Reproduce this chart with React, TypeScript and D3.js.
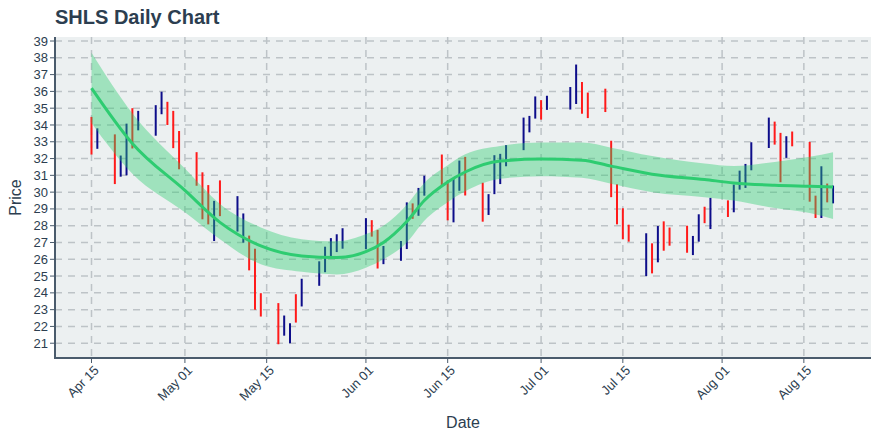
import * as d3 from "d3"

const title = "SHLS Daily Chart"

// trading days, high/low of each bar, and whether the day closed up (u) or down (d)
const dates = [
  "2021-04-15", "2021-04-16", "2021-04-19", "2021-04-20", "2021-04-21", "2021-04-22", "2021-04-23",
  "2021-04-26", "2021-04-27", "2021-04-28", "2021-04-29", "2021-04-30",
  "2021-05-03", "2021-05-04", "2021-05-05", "2021-05-06", "2021-05-07",
  "2021-05-10", "2021-05-11", "2021-05-12", "2021-05-13", "2021-05-14",
  "2021-05-17", "2021-05-18", "2021-05-19", "2021-05-20", "2021-05-21",
  "2021-05-24", "2021-05-25", "2021-05-26", "2021-05-27", "2021-05-28",
  "2021-06-01", "2021-06-02", "2021-06-03", "2021-06-04",
  "2021-06-07", "2021-06-08", "2021-06-09", "2021-06-10", "2021-06-11",
  "2021-06-14", "2021-06-15", "2021-06-16", "2021-06-17", "2021-06-18",
  "2021-06-21", "2021-06-22", "2021-06-23", "2021-06-24", "2021-06-25",
  "2021-06-28", "2021-06-29", "2021-06-30", "2021-07-01", "2021-07-02",
  "2021-07-06", "2021-07-07", "2021-07-08", "2021-07-09",
  "2021-07-12", "2021-07-13", "2021-07-14", "2021-07-15", "2021-07-16",
  "2021-07-19", "2021-07-20", "2021-07-21", "2021-07-22", "2021-07-23",
  "2021-07-26", "2021-07-27", "2021-07-28", "2021-07-29", "2021-07-30",
  "2021-08-02", "2021-08-03", "2021-08-04", "2021-08-05", "2021-08-06",
  "2021-08-09", "2021-08-10", "2021-08-11", "2021-08-12", "2021-08-13",
  "2021-08-16", "2021-08-17", "2021-08-18", "2021-08-19", "2021-08-20",
]

const highs = [
  34.48, 33.8, 33.44, 32.18, 34.08, 35.0, 34.84,
  35.18, 35.98, 35.38, 34.84, 33.64,
  32.38, 31.18, 30.42, 29.48, 30.7,
  29.76, 28.73, 27.41, 26.63, 23.98,
  23.39, 22.65, 22.19, 23.92, 24.84,
  25.88, 26.75, 27.26, 27.49, 27.85,
  28.45, 28.33, 27.75, 26.79,
  27.09, 29.39, 29.33, 30.25, 30.98,
  32.24, 30.7, 30.82, 31.88, 32.1,
  30.56, 29.88, 32.2, 32.28, 32.8,
  34.44, 34.54, 35.7, 35.48, 35.74,
  36.26, 37.6, 36.56, 35.93,
  36.16, 33.06, 30.47, 29.04, 28.06,
  27.55, 26.95, 27.98, 28.26, 27.89,
  28.0, 27.39, 28.68, 29.13, 29.66,
  29.51, 30.45, 31.28, 31.68, 32.97,
  34.44, 34.2, 33.53, 33.33, 33.61,
  32.99, 29.79, 31.54, 30.51, 30.39,
]

const lows = [
  32.24, 32.58, 30.48, 30.92, 31.0, 32.6, 33.68,
  33.36, 34.64, 34.0, 32.62, 31.36,
  30.38, 28.38, 28.08, 27.09, 28.57,
  27.65, 26.99, 25.34, 23.0, 22.59,
  20.94, 21.45, 21.0, 22.23, 23.19,
  24.42, 25.23, 26.12, 26.43, 26.63,
  26.61, 27.35, 25.45, 25.71,
  25.91, 26.61, 28.41, 28.59, 29.79,
  30.33, 28.32, 28.2, 30.08, 29.8,
  28.24, 28.64, 29.88, 30.48, 31.54,
  32.5, 33.56, 34.38, 34.32, 34.9,
  34.92, 35.25, 34.67, 34.41,
  34.77, 29.7, 28.08, 27.19, 27.05,
  25.0, 25.16, 25.82, 26.51, 26.81,
  26.39, 26.25, 27.05, 28.15, 27.8,
  28.52, 28.8, 30.15, 30.25, 31.3,
  32.63, 32.83, 30.59, 32.04, 32.73,
  29.43, 28.46, 28.46, 29.39, 29.33,
]

const moves = [
  "d", "u", "d", "u", "u", "d", "u",
  "u", "u", "d", "d", "d",
  "d", "d", "d", "u", "d",
  "u", "u", "d", "d", "d",
  "d", "u", "u", "d", "u",
  "u", "u", "u", "u", "u",
  "u", "d", "d", "u",
  "u", "u", "d", "u", "u",
  "d", "d", "u", "u", "d",
  "d", "u", "u", "u", "u",
  "u", "u", "u", "d", "u",
  "u", "u", "d", "d",
  "d", "d", "d", "d", "d",
  "u", "d", "u", "d", "d",
  "d", "u", "u", "d", "u",
  "d", "u", "u", "u", "u",
  "u", "d", "d", "u", "d",
  "d", "d", "u", "d", "u",
]

// smoothed trend and its band
const fitDates = [
  "2021-04-15", "2021-04-22", "2021-05-01", "2021-05-07", "2021-05-14", "2021-05-21",
  "2021-05-27", "2021-06-01", "2021-06-04", "2021-06-08", "2021-06-11", "2021-06-15",
  "2021-06-18", "2021-06-24", "2021-07-01", "2021-07-08", "2021-07-13", "2021-07-20",
  "2021-07-29", "2021-08-03", "2021-08-10", "2021-08-16", "2021-08-20",
]
const fitMid = [
  36.2, 32.9, 30.1, 28.2, 26.8, 26.2, 26.1, 26.45, 27.0, 28.25, 29.5, 30.6,
  31.2, 31.85, 31.97, 31.9, 31.55, 31.07, 30.75, 30.55, 30.41, 30.35, 30.31,
]
const fitUpper = [
  38.3, 34.7, 31.4, 29.3, 27.9, 27.2, 27.07, 27.5, 28.0, 29.25, 30.55, 31.6,
  32.25, 32.75, 32.95, 32.95, 32.65, 32.15, 31.7, 31.55, 31.8, 32.1, 32.38,
]
const fitLower = [
  34.1, 31.1, 28.8, 27.2, 25.7, 25.25, 25.1, 25.5, 26.0, 27.0, 28.3, 29.4,
  30.05, 30.8, 30.95, 30.85, 30.5, 30.0, 29.7, 29.5, 29.05, 28.75, 28.4,
]

const xTickDates = [
  "2021-04-15", "2021-05-01", "2021-05-15", "2021-06-01", "2021-06-15",
  "2021-07-01", "2021-07-15", "2021-08-01", "2021-08-15",
]
const yTicks = d3.range(21, 40)

export default function App() {
  const width = 880
  const height = 440
  const left = 55
  const right = 871
  const top = 37
  const bottom = 358
  const ink = "#2c3e50"
  const axisInk = "#4a5b6c"
  const font = "'Liberation Sans', Arial, sans-serif"

  const parse = d3.timeParse("%Y-%m-%d")
  const fmt = d3.timeFormat("%b %d")
  const day = 86400000
  const start = parse("2021-04-15")!.getTime()

  const x = d3
    .scaleTime()
    .domain([new Date(start - 6.25 * day), new Date(start + 133.5 * day)])
    .range([left, right])
  const y = d3.scaleLinear().domain([20.12, 39.24]).range([bottom, top])

  const fit = fitDates.map((d, i) => ({ t: parse(d)!, m: fitMid[i], u: fitUpper[i], l: fitLower[i] }))
  const band = d3
    .area<any>()
    .x((d) => x(d.t))
    .y0((d) => y(d.l))
    .y1((d) => y(d.u))
    .curve(d3.curveMonotoneX)
  const mid = d3
    .line<any>()
    .x((d) => x(d.t))
    .y((d) => y(d.m))
    .curve(d3.curveMonotoneX)

  return (
    <svg
      width={width}
      height={height}
      style={{ position: "absolute", left: 0, top: 0, background: "#fff" }}
      fontFamily={font}
    >
      <text x={55} y={24} fontSize={20} fontWeight="bold" fill={ink}>
        {title}
      </text>

      <rect x={left} y={top} width={right - left} height={bottom - top} fill="#ecf0f1" />

      {/* grid */}
      {yTicks.map((v) => (
        <line
          key={"gy" + v}
          x1={left}
          x2={right}
          y1={y(v)}
          y2={y(v)}
          stroke="#bdc3c7"
          strokeWidth={1.5}
          strokeDasharray="7,6"
        />
      ))}
      {xTickDates.map((d) => (
        <line
          key={"gx" + d}
          x1={x(parse(d)!)}
          x2={x(parse(d)!)}
          y1={top}
          y2={bottom}
          stroke="#bdc3c7"
          strokeWidth={1.5}
          strokeDasharray="7,6"
        />
      ))}

      {/* bars */}
      {dates.map((d, i) => (
        <line
          key={d}
          x1={x(parse(d)!)}
          x2={x(parse(d)!)}
          y1={y(highs[i])}
          y2={y(lows[i])}
          stroke={moves[i] === "u" ? "#0d0d8a" : "#ff1a1a"}
          strokeWidth={2}
        />
      ))}

      {/* trend */}
      <path d={band(fit)!} fill="#2ecc71" fillOpacity={0.4} />
      <path d={mid(fit)!} fill="none" stroke="#2ecc71" strokeWidth={3} />

      {/* axes */}
      <line x1={left} x2={left} y1={top} y2={bottom + 1} stroke={axisInk} strokeWidth={2} />
      <line x1={left - 1} x2={right} y1={bottom} y2={bottom} stroke={axisInk} strokeWidth={2} />
      {yTicks.map((v) => (
        <g key={"ty" + v}>
          <line x1={left - 5} x2={left} y1={y(v)} y2={y(v)} stroke={axisInk} strokeWidth={1} />
          <text x={left - 7} y={y(v)} dy="0.35em" textAnchor="end" fontSize={13} fill={ink}>
            {v}
          </text>
        </g>
      ))}
      {xTickDates.map((d) => {
        const px = x(parse(d)!)
        return (
          <g key={"tx" + d}>
            <line x1={px} x2={px} y1={bottom} y2={bottom + 5} stroke={axisInk} strokeWidth={1} />
            <text
              transform={`translate(${px + 5},${bottom + 10}) rotate(-45)`}
              textAnchor="end"
              dy="0.35em"
              fontSize={13}
              fill={ink}
            >
              {fmt(parse(d)!)}
            </text>
          </g>
        )
      })}

      <text x={(left + right) / 2} y={428} textAnchor="middle" fontSize={16} fill={ink}>
        Date
      </text>
      <text
        transform={`translate(21,${(top + bottom) / 2}) rotate(-90)`}
        textAnchor="middle"
        fontSize={16}
        fill={ink}
      >
        Price
      </text>
    </svg>
  )
}
